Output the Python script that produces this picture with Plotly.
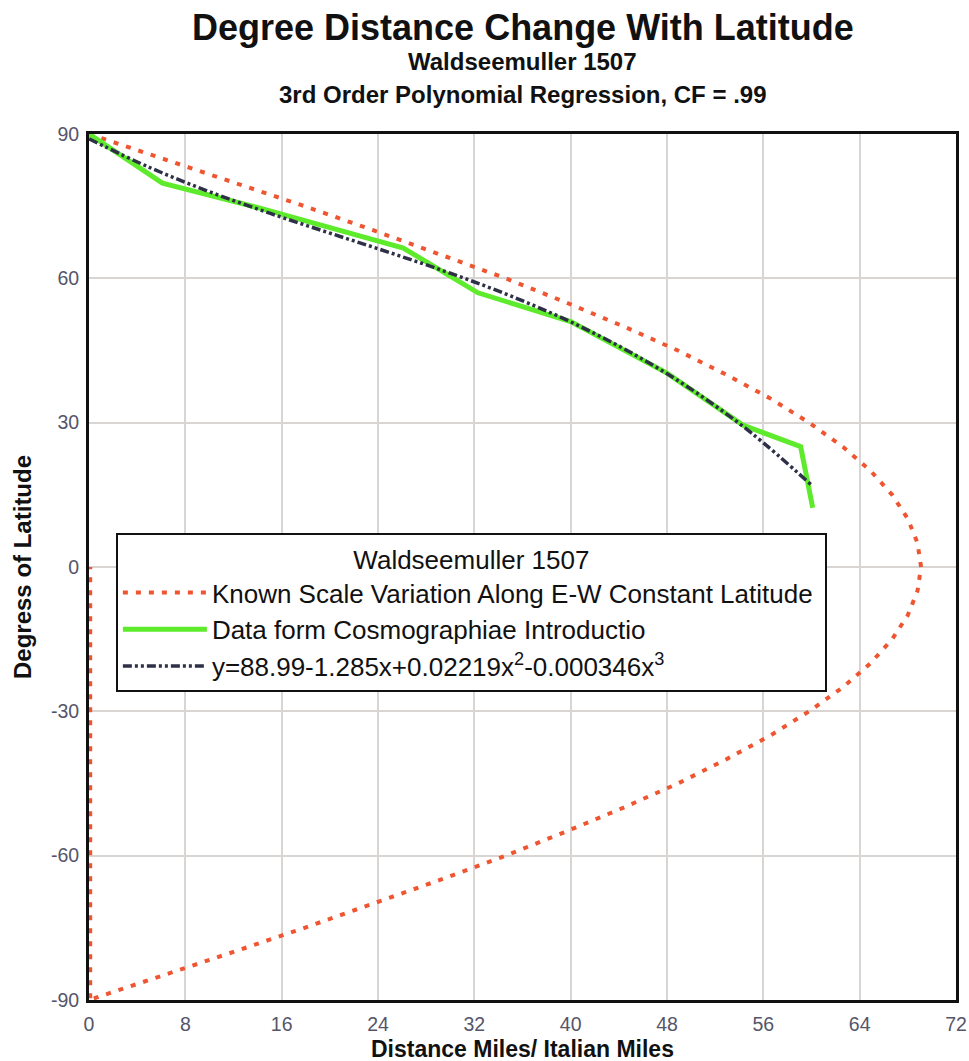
import plotly.graph_objects as go

# Known scale variation (distance of one degree of longitude, miles) by latitude
known_lat = [90, 85, 80, 75, 70, 65, 60, 55, 50, 45, 40, 35, 30, 25, 20, 15, 10, 5, 0,
             -5, -10, -15, -20, -25, -30, -35, -40, -45, -50, -55, -60, -65, -70, -75, -80, -85, -90,
             -90, 0]
known_dist = [0.0, 6.0, 12.0, 17.9, 23.6, 29.2, 34.6, 39.6, 44.4, 48.9, 52.9, 56.6, 59.8, 62.6, 64.9, 66.7, 68.0, 68.8, 69.1,
              68.8, 68.0, 66.7, 64.9, 62.6, 59.8, 56.6, 52.9, 48.9, 44.4, 39.6, 34.6, 29.2, 23.6, 17.9, 12.0, 6.0, 0.0,
              0.1, 0.1]

# Data from Cosmographiae Introductio
data_dist = [0.0, 6.1, 14.2, 26.1, 32.3, 40.0, 48.0, 54.3, 59.1, 60.1]
data_lat = [90.0, 79.8, 74.6, 66.3, 57.0, 51.0, 40.3, 29.5, 25.0, 12.3]

# 3rd order polynomial regression curve
fit_dist = [0, 5, 10, 15, 20, 25, 30, 35, 40, 45, 50, 55, 60]
fit_lat = [88.99, 83.08, 78.01, 73.54, 69.40, 65.33, 61.07, 56.36, 50.95, 44.57, 36.97, 27.88, 17.03]

x_ticks = [0, 8, 16, 24, 32, 40, 48, 56, 64, 72]
y_ticks = [-90, -60, -30, 0, 30, 60, 90]

FONT = "Liberation Sans, Arial, sans-serif"

fig = go.Figure()
fig.add_trace(go.Scatter(
    x=known_dist, y=known_lat, mode="lines",
    name="Known Scale Variation Along E-W Constant Latitude\u00a0",
    line=dict(color="#EE5530", width=4, dash="5px,8px"),
))
fig.add_trace(go.Scatter(
    x=data_dist, y=data_lat, mode="lines",
    name="Data form Cosmographiae Introductio",
    line=dict(color="#5DEB2B", width=5),
))
fig.add_trace(go.Scatter(
    x=fit_dist, y=fit_lat, mode="lines", line_shape="spline",
    name="y=88.99-1.285x+0.02219x<sup>2</sup>-0.000346x<sup>3</sup>",
    line=dict(color="#2E3048", width=3.5, dash="9px,3px,3px,3px,3px,3px"),
))

axis_common = dict(
    showgrid=True, gridcolor="#D8D5D2", gridwidth=1.5,
    showline=True, linecolor="#111111", linewidth=3, mirror=True,
    zeroline=False, ticks="", automargin=False,
    tickfont=dict(family=FONT, size=19.5, color="#55556A"),
)

fig.update_layout(
    width=969, height=1061,
    margin=dict(l=89, r=13, t=134, b=61),
    paper_bgcolor="white", plot_bgcolor="white",
    font=dict(family=FONT, color="#111111"),
    showlegend=True,
    legend=dict(
        x=0.031, y=0.539, xanchor="left", yanchor="top",
        bgcolor="white", bordercolor="#111111", borderwidth=2,
        font=dict(family=FONT, size=26, color="#111111"),
        title=dict(text="Waldseemuller 1507", side="top center",
                   font=dict(family=FONT, size=26, color="#111111")),
        itemwidth=84,
    ),
)
fig.update_xaxes(range=[0, 72], tickvals=x_ticks, ticktext=[str(v) for v in x_ticks],
                 ticklabelstandoff=5, **axis_common)
fig.update_yaxes(range=[-90, 90], tickvals=y_ticks, ticktext=[str(v) for v in y_ticks],
                 ticklabelstandoff=3, **axis_common)

fig.add_annotation(text="<b>Degree Distance Change With Latitude</b>", xref="paper", yref="paper",
                   x=0.5, y=1, yshift=107, yanchor="middle", showarrow=False,
                   font=dict(family=FONT, size=36, color="#111111"))
fig.add_annotation(text="<b>Waldseemuller 1507</b>", xref="paper", yref="paper",
                   x=0.5, y=1, yshift=73, yanchor="middle", showarrow=False,
                   font=dict(family=FONT, size=24, color="#111111"))
fig.add_annotation(text="<b>3rd Order Polynomial Regression, CF = .99</b>", xref="paper", yref="paper",
                   x=0.5, y=1, yshift=40, yanchor="middle", showarrow=False,
                   font=dict(family=FONT, size=24, color="#111111"))
fig.add_annotation(text="<b>Distance Miles/ Italian Miles</b>", xref="paper", yref="paper",
                   x=0.5, y=0, yshift=-49, yanchor="middle", showarrow=False,
                   font=dict(family=FONT, size=23, color="#111111"))
fig.add_annotation(text="<b>Degress of Latitude</b>", xref="paper", yref="paper",
                   x=0, y=0.5, xshift=-67, xanchor="center", yanchor="middle", textangle=-90,
                   showarrow=False, font=dict(family=FONT, size=24, color="#111111"))

fig.write_html(
    "out.html",
    config={"displayModeBar": False},
    post_script="document.body.style.margin='0';document.body.style.overflow='hidden';"
                "document.documentElement.style.overflow='hidden';",
)
